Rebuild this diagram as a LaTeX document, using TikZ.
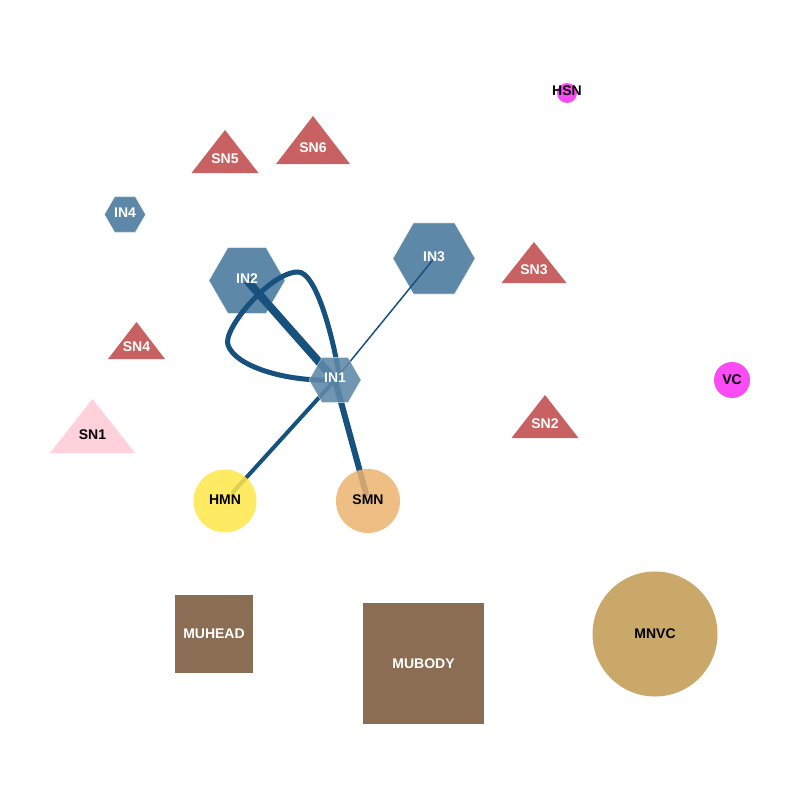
\documentclass[tikz,border=0pt]{standalone}
\usepackage{fontspec}
\setmainfont{Liberation Sans}
\usetikzlibrary{shapes.geometric}
\definecolor{hexblue}{HTML}{5E88A8}
\definecolor{edgeblue}{HTML}{17527E}
\definecolor{trired}{HTML}{C86262}
\definecolor{tripink}{HTML}{FFD1DB}
\definecolor{magent}{HTML}{FA4BF4}
\definecolor{yell}{HTML}{FFE74A}
\definecolor{smnc}{HTML}{EDB36F}
\definecolor{brwn}{HTML}{8B6D54}
\definecolor{mnvcc}{HTML}{C9A86A}
\tikzset{
  lbl/.style={font=\fontsize{14}{16}\selectfont\bfseries, inner sep=0pt},
  wlbl/.style={lbl, text=white},
  blbl/.style={lbl, text=black},
  hexnode/.style={regular polygon, regular polygon sides=6, shape border rotate=0,
    fill=hexblue, draw=white, draw opacity=0.5, line width=0.6pt, inner sep=0pt, minimum size=#1},
  circnode/.style={circle, inner sep=0pt, minimum size=#1},
  sqnode/.style={rectangle, inner sep=0pt, fill=brwn, wlbl, minimum size=#1},
  edge/.style={draw=edgeblue, line cap=round}
}
\newcommand{\tri}[8]{% name, cx, basey, halfwidth, height, color, labelstyle, text
  \fill[#6] (#2-#4,#3) -- (#2+#4,#3) -- (#2,#3-#5) -- cycle;
  \node[#7] (#1) at (#2,#3-#5/3) {#8};
}
\begin{document}
\begin{tikzpicture}[x=1pt,y=-1pt]
\useasboundingbox (0,0) rectangle (800,800);
\fill[white] (0,0) rectangle (800,800);

% background nodes
\node[circnode=20, fill=magent] (HSNs) at (567,93) {};
\node[blbl] (HSN) at (567,91) {HSN};
\tri{SN5}{225}{173}{33.5}{43}{trired}{wlbl}{SN5}
\tri{SN6}{313}{164}{37}{48}{trired}{wlbl}{SN6}
\tri{SN3}{534}{283}{32.5}{41}{trired}{wlbl}{SN3}
\tri{SN4}{136.5}{359}{28.5}{37}{trired}{wlbl}{SN4}
\tri{SN2}{545}{438}{33.5}{43}{trired}{wlbl}{SN2}
\tri{SN1}{92.5}{453}{42.5}{54}{tripink}{blbl}{SN1}
\node[hexnode=41] (IN4s) at (125,214.5) {};
\node[wlbl] (IN4) at (125,213) {IN4};
\node[hexnode=76] (IN2s) at (247,280.5) {};
\node[hexnode=82] (IN3s) at (434,258.5) {};
\node[circnode=36, fill=magent, blbl] (VC) at (732,380) {VC};
\node[sqnode=78] (MUHEAD) at (214,634) {MUHEAD};
\node[sqnode=121] (MUBODY) at (423.5,663.5) {MUBODY};
\node[circnode=125, fill=mnvcc, blbl] (MNVC) at (655,634) {MNVC};

% IN1 anchor for edges
\coordinate (c1) at (335,380);
\coordinate (HMNc) at (225,501);
\coordinate (SMNc) at (368,501);

% edges
\draw[edge, line width=1.5pt] (c1) -- (IN3s.center);
\draw[edge, line width=8pt, line cap=butt] (c1) -- (IN2s.center);
\draw[edge, line width=4pt, shorten >=12pt] (c1) -- (HMNc);
\draw[edge, line width=6pt, shorten >=8pt] (c1) -- (SMNc);
\draw[edge, line width=5pt]
  (c1) .. controls (285,382) and (235,366) .. (228,345)
       .. controls (222,330) and (270,272) .. (298,272)
       .. controls (315,272) and (332,330) .. (340,380);

% foreground nodes
\node[hexnode=52, fill opacity=0.88] (IN1s) at (c1) {};
\node[circnode=63, fill=yell, fill opacity=0.85] (HMNs) at (HMNc) {};
\node[circnode=64, fill=smnc, fill opacity=0.85] (SMNs) at (SMNc) {};

% labels on top
\node[wlbl] (IN2) at (247,279) {IN2};
\node[wlbl] (IN3) at (434,257) {IN3};
\node[wlbl] (IN1) at (335,378) {IN1};
\node[blbl] (HMN) at (225,500) {HMN};
\node[blbl] (SMN) at (368,500) {SMN};
\end{tikzpicture}
\end{document}
